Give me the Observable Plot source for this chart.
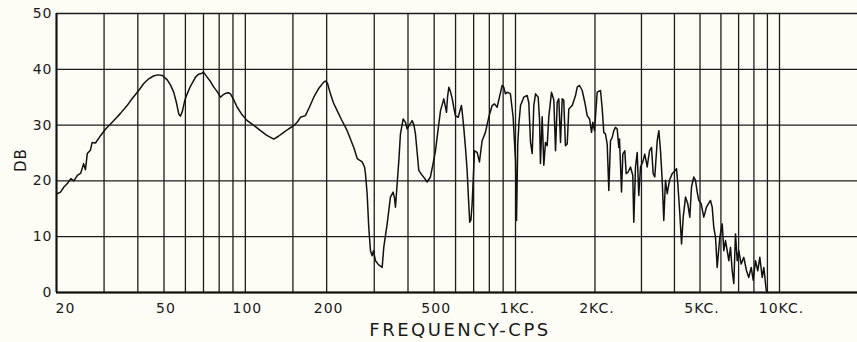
<!DOCTYPE html>
<html>
<head>
<meta charset="utf-8">
<script src="https://cdn.jsdelivr.net/npm/d3@7"></script>
<script src="https://cdn.jsdelivr.net/npm/@observablehq/plot@0.6"></script>
<style>
  html, body { margin: 0; padding: 0; background: #fdfdf6; }
  #chart { width: 857px; height: 342px; }
  svg { display: block; }
  #chart text { letter-spacing: 1px; }
</style>
</head>
<body>
<div id="chart"></div>
<script>
// Frequency response trace: low part (Hz, dB)
const freqLow = [
  20.1, 20.7, 21.3, 21.9, 22.6, 23.2, 23.9, 24.6, 25.2, 25.6, 26.0, 26.7, 27.1, 27.9, 29.1, 30.4, 31.7, 33.0, 34.5, 36.5,
  38.2, 40.3, 42.0, 43.9, 45.7, 47.4, 49.3, 51.4, 52.8, 54.3, 55.6, 56.7, 57.5, 58.5, 59.6, 60.9, 62.7, 65.4, 67.1, 69.2,
  70.0, 72.2, 74.3, 76.4, 78.7, 80.9, 82.6, 84.5, 86.6, 88.1, 90.4, 93.3, 96.8, 101.6, 107.2, 113.8, 119.7, 127.4, 132.6, 138.7,
  144.4, 151.1, 156.0, 159.9, 166.9, 172.6, 179.2, 186.5, 195.1, 197.9, 201.4, 206.5, 211.8, 218.7, 226.8, 238.2, 244.9, 252.0, 259.5, 270.7,
  276.1, 278.4, 282.4, 286.3, 290.5, 294.7, 297.9, 303.2, 311.0, 321.0, 325.4, 334.9, 344.4, 352.4, 356.4, 359.5, 364.7, 370.4, 375.0, 383.9,
  391.4, 397.2, 404.7, 414.5, 420.8, 426.3, 433.6, 438.6, 451.3, 460.3, 470.9, 484.2, 494.9, 505.6, 516.4, 527.7, 542.8, 555.5, 560.2, 566.8,
  574.5, 583.4, 591.6, 599.5, 613.5, 622.3, 631.0, 637.7, 643.3, 652.7, 662.1, 669.6, 677.1, 684.0, 691.1, 704.8, 721.1, 735.4, 752.4, 773.9,
  796.0, 819.4, 835.6, 855.1, 872.0, 892.4, 904.6, 917.8, 931.1, 957.6, 980.0, 1000, 1008.8, 1020, 1031
];
const levelLow = [
  17.7, 18.0, 18.9, 19.5, 20.4, 20.0, 21.0, 21.4, 23.1, 22.0, 24.9, 25.5, 26.9, 26.8, 28.1, 29.3, 30.2, 31.1, 32.1, 33.5,
  34.8, 36.2, 37.4, 38.3, 38.8, 39.0, 38.9, 38.1, 37.2, 35.9, 34.0, 32.0, 31.6, 32.5, 34.3, 35.6, 37.0, 38.6, 39.1, 39.3,
  39.5, 38.6, 37.8, 36.8, 36.0, 35.0, 35.4, 35.7, 35.8, 35.6, 34.6, 33.2, 32.0, 30.8, 30.0, 29.0, 28.2, 27.5, 28.0, 28.7,
  29.3, 29.9, 30.6, 31.4, 31.7, 33.2, 35.0, 36.5, 37.7, 37.9, 37.5, 35.6, 34.0, 32.6, 31.0, 29.0, 27.5, 26.0, 24.0, 23.4,
  22.5, 21.3, 17.7, 11.7, 7.5, 6.6, 7.5, 5.7, 5.0, 4.5, 8.1, 12.3, 17.1, 18.0, 17.0, 15.3, 19.5, 24.0, 28.4, 31.1,
  30.5, 29.3, 30.0, 30.8, 30.0, 28.4, 24.5, 21.9, 21.0, 20.5, 19.8, 20.7, 23.0, 25.4, 29.0, 32.6, 34.7, 32.3, 35.0, 36.8,
  36.0, 34.7, 33.0, 31.7, 31.4, 32.5, 33.5, 31.5, 29.6, 26.0, 21.9, 17.0, 12.6, 13.0, 15.9, 25.4, 25.1, 23.4, 27.2, 28.7,
  31.4, 33.5, 33.8, 33.2, 35.0, 37.1, 36.8, 35.6, 35.9, 35.6, 31.4, 23.7, 12.9, 26.6, 30.5
];
// High part (Hz, dB)
const freqHigh = [
  1044.6, 1075, 1107, 1123, 1140, 1157, 1173, 1191, 1219, 1233,
  1243, 1262, 1280, 1299, 1318, 1337, 1369, 1397, 1418, 1439,
  1459, 1481, 1503, 1523, 1546, 1570, 1592, 1640, 1688, 1713,
  1748, 1789, 1830, 1869, 1907, 1941, 1963, 1992, 2039, 2099,
  2130, 2160, 2192, 2225, 2257, 2290, 2325, 2357, 2392, 2428,
  2462, 2477, 2521, 2550, 2594, 2626, 2672, 2726, 2781, 2806,
  2848, 2891, 2931, 2975, 3035, 3088, 3154, 3218, 3275, 3323,
  3370, 3442, 3491, 3542, 3595, 3645, 3700, 3755, 3831, 3923,
  3978, 4072, 4119, 4192, 4255, 4318, 4405, 4494, 4573, 4642,
  4735, 4806, 4878, 4946, 5050, 5167, 5290, 5397, 5477, 5560,
  5637, 5723, 5807, 5941, 6067, 6153, 6244, 6337, 6427, 6522,
  6619, 6713, 6812, 6915, 7012, 7160, 7325, 7499, 7651, 7813,
  7951, 8111, 8276, 8423, 8601, 8721, 8906, 9031
];
const levelHigh = [
  33.5, 35.0, 35.3, 34.0, 26.9, 24.9, 33.5, 35.6, 35.0, 31.1,
  23.1, 31.5, 22.8, 26.9, 26.3, 31.5, 35.9, 34.5, 25.4, 34.1,
  34.7, 26.9, 34.7, 34.5, 26.3, 26.6, 32.9, 33.5, 35.3, 36.8,
  37.1, 36.2, 34.1, 31.7, 31.1, 28.7, 30.5, 29.0, 35.9, 36.2,
  33.0, 28.7, 28.4, 26.6, 18.3, 27.2, 27.8, 29.0, 29.6, 29.3,
  26.0, 27.5, 18.0, 24.8, 25.4, 21.3, 21.6, 22.5, 21.0, 12.6,
  22.5, 25.1, 17.4, 22.5, 23.4, 24.8, 22.5, 25.4, 26.0, 21.3,
  20.7, 27.2, 29.0, 25.4, 20.1, 12.9, 20.1, 17.7, 20.1, 21.3,
  21.6, 22.2, 19.5, 14.1, 8.7, 13.5, 17.1, 15.9, 13.5, 18.9,
  20.7, 20.1, 18.0, 16.5, 15.9, 13.5, 15.3, 16.0, 16.5, 15.3,
  11.7, 9.9, 4.5, 9.9, 12.3, 7.5, 9.3, 7.5, 5.7, 8.1,
  3.9, 1.6, 10.5, 5.7, 7.5, 5.1, 6.3, 3.9, 2.7, 4.5,
  2.2, 5.7, 3.9, 6.3, 2.7, 4.5, 0.4, 0.0
];

// Chart paper grid and labels
const xGrid = [20, 30, 40, 50, 60, 70, 80, 90, 100, 150, 200, 300, 400, 500, 600, 700, 800, 900, 1000,
               2000, 3000, 4000, 5000, 6000, 7000, 8000, 9000, 10000];
const yGrid = [0, 10, 20, 30, 40, 50];
const xTickValues = [20, 50, 100, 200, 500, 1000, 2000, 5000, 10000];
const xTickLabels = ["20", "50", "100", "200", "500", "1KC.", "2KC.", "5KC.", "10KC."];
const yTickLabels = ["0", "10", "20", "30", "40", "50"];
const xTitle = "FREQUENCY-CPS";
const yTitle = "DB";

const freq = freqLow.concat(freqHigh);
const level = levelLow.concat(levelHigh);
const trace = freq.map((f, i) => ({f, db: level[i]}));
const xTicks = xTickValues.map((v, i) => ({v, label: xTickLabels[i]}));
const yTicks = yGrid.map((v, i) => ({v, label: yTickLabels[i]}));

const font = "'DejaVu Sans', sans-serif";
const ink = "#1a1a1a";

const chart = Plot.plot({
  width: 857,
  height: 342,
  marginTop: 13,
  marginBottom: 50,
  marginLeft: 56,
  marginRight: 0,
  style: {background: "transparent", fontFamily: font, color: ink},
  x: {type: "log", domain: [20, 1000, 10000, 20000], range: [56, 515, 779, 857], axis: null},
  y: {domain: [0, 50], axis: null},
  marks: [
    Plot.ruleX(xGrid, {x: d => d, y1: 0, y2: 50, stroke: "#1c1c1c", strokeWidth: 1.3}),
    Plot.ruleY(yGrid, {y: d => d, stroke: "#1c1c1c", strokeWidth: 1.3}),
    Plot.ruleY([0], {stroke: "#111", strokeWidth: 2}),
    Plot.ruleX([20], {y1: 0, y2: 50, stroke: "#111", strokeWidth: 2}),
    Plot.line(trace, {x: "f", y: "db", stroke: "#111", strokeWidth: 1.5, strokeLinejoin: "round"}),
    Plot.text(xTicks.slice(0, 1), {x: "v", y: 0, text: "label", dy: 16, dx: 9, fontSize: 14, fill: ink}),
    Plot.text(xTicks.slice(1), {x: "v", y: 0, text: "label", dy: 16, dx: 2, fontSize: 14, fill: ink}),
    Plot.text(yTicks, {x: 20, y: "v", text: "label", dx: -4, textAnchor: "end", fontSize: 14, fill: ink}),
    Plot.text([xTitle], {frameAnchor: "bottom", dx: 3, dy: 43, fontSize: 18, fill: ink}),
    Plot.text([yTitle], {frameAnchor: "left", dx: -35, dy: 19, rotate: -90, fontSize: 15, fill: ink})
  ]
});
d3.select(chart).selectAll("text")
  .filter(function() { return this.textContent === xTitle; })
  .style("letter-spacing", "2.5px");
document.getElementById("chart").appendChild(chart);
</script>
</body>
</html>
